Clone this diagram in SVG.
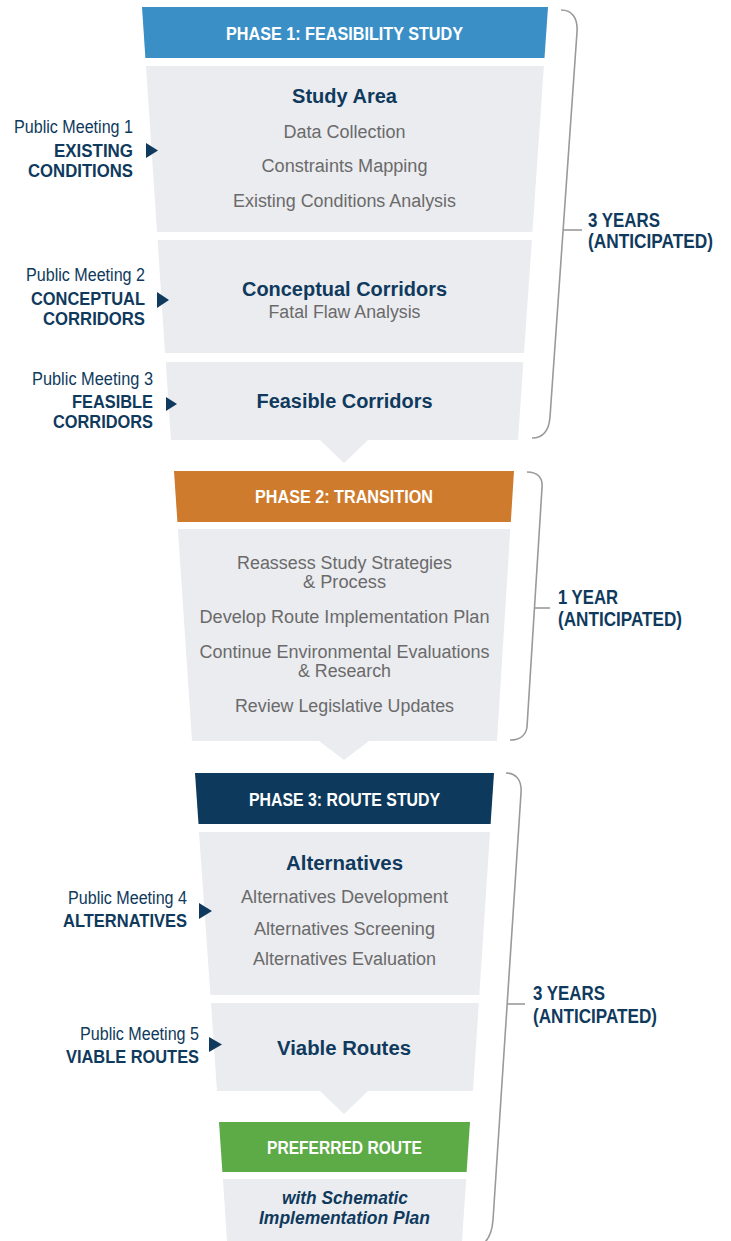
<svg xmlns="http://www.w3.org/2000/svg" width="731" height="1241" viewBox="0 0 731 1241">
<style>
.box{fill:#EBECF0}
.hdr{font-family:"Liberation Sans",Arial,sans-serif;font-weight:bold;font-size:18px;fill:#FFFFFF;text-anchor:middle}
.ttl{font-family:"Liberation Sans",Arial,sans-serif;font-weight:bold;font-size:20px;fill:#0F3A5D;text-anchor:middle}
.sub{font-family:"Liberation Sans",Arial,sans-serif;font-size:18px;fill:#6A6A6A;text-anchor:middle}
.pm{font-family:"Liberation Sans",Arial,sans-serif;font-size:18px;fill:#0F3A5D;text-anchor:end}
.pmb{font-family:"Liberation Sans",Arial,sans-serif;font-weight:bold;font-size:19px;fill:#0F3A5D;text-anchor:end}
.yr{font-family:"Liberation Sans",Arial,sans-serif;font-weight:bold;font-size:19.5px;fill:#0F3A5D}
.it{font-family:"Liberation Sans",Arial,sans-serif;font-weight:bold;font-style:italic;font-size:18px;fill:#0F3A5D;text-anchor:middle}
.brace{fill:none;stroke:#9A9A9A;stroke-width:1.6}
.tri{fill:#0F3A5D}
</style>

<g id="phase1-header">
<polygon points="142,7 548,7 544.5,58 145.4,58" fill="#3B8FC7"/>
<text class="hdr" x="344.5" y="40" textLength="237" lengthAdjust="spacingAndGlyphs">PHASE 1: FEASIBILITY STUDY</text>
</g>
<g id="study-area">
<polygon class="box" points="146,66 543.9,66 532.4,232 157,232"/>
<text class="ttl" x="344.5" y="103">Study Area</text>
<text class="sub" x="344.5" y="138" textLength="122" lengthAdjust="spacingAndGlyphs">Data Collection</text>
<text class="sub" x="344.5" y="172" textLength="166" lengthAdjust="spacingAndGlyphs">Constraints Mapping</text>
<text class="sub" x="344.5" y="207" textLength="223" lengthAdjust="spacingAndGlyphs">Existing Conditions Analysis</text>
</g>
<g id="conceptual-corridors">
<polygon class="box" points="157.6,240 531.9,240 524,353 165,353"/>
<text class="ttl" x="344.5" y="296" textLength="205" lengthAdjust="spacingAndGlyphs">Conceptual Corridors</text>
<text class="sub" x="344.5" y="318" textLength="152" lengthAdjust="spacingAndGlyphs">Fatal Flaw Analysis</text>
</g>
<g id="feasible-corridors">
<polygon class="box" points="165.8,362 523.4,362 518,440 171,440"/>
<text class="ttl" x="344.5" y="408" textLength="176" lengthAdjust="spacingAndGlyphs">Feasible Corridors</text>
</g>

<g id="phase2-header">
<polygon points="174,471 514,471 510.8,522 177.4,522" fill="#CE7B2D"/>
<text class="hdr" x="344" y="503" textLength="178" lengthAdjust="spacingAndGlyphs">PHASE 2: TRANSITION</text>
</g>
<g id="transition">
<polygon class="box" points="177.9,529 510.3,529 497,741 192,741"/>
<text class="sub" x="344.5" y="569" textLength="215" lengthAdjust="spacingAndGlyphs">Reassess Study Strategies</text>
<text class="sub" x="344.5" y="588" textLength="83" lengthAdjust="spacingAndGlyphs">&amp; Process</text>
<text class="sub" x="344.5" y="623" textLength="290" lengthAdjust="spacingAndGlyphs">Develop Route Implementation Plan</text>
<text class="sub" x="344.5" y="658" textLength="290" lengthAdjust="spacingAndGlyphs">Continue Environmental Evaluations</text>
<text class="sub" x="344.5" y="677" textLength="93" lengthAdjust="spacingAndGlyphs">&amp; Research</text>
<text class="sub" x="344.5" y="712" textLength="219" lengthAdjust="spacingAndGlyphs">Review Legislative Updates</text>
</g>

<g id="phase3-header">
<polygon points="195,773 494,773 490.6,824 198.5,824" fill="#0D3A5C"/>
<text class="hdr" x="344.5" y="806" textLength="191" lengthAdjust="spacingAndGlyphs">PHASE 3: ROUTE STUDY</text>
</g>
<g id="alternatives">
<polygon class="box" points="199,832 490,832 479.3,995 210.4,995"/>
<text class="ttl" x="344.5" y="870" textLength="117" lengthAdjust="spacingAndGlyphs">Alternatives</text>
<text class="sub" x="344.5" y="903" textLength="207" lengthAdjust="spacingAndGlyphs">Alternatives Development</text>
<text class="sub" x="344.5" y="935" textLength="181" lengthAdjust="spacingAndGlyphs">Alternatives Screening</text>
<text class="sub" x="344.5" y="965" textLength="183" lengthAdjust="spacingAndGlyphs">Alternatives Evaluation</text>
</g>
<g id="viable-routes">
<polygon class="box" points="211,1003 478.8,1003 473,1091 217,1091"/>
<text class="ttl" x="344" y="1055" textLength="134" lengthAdjust="spacingAndGlyphs">Viable Routes</text>
</g>
<g id="preferred-route">
<polygon points="219,1122 470,1122 466.6,1172 222.4,1172" fill="#5DAB47"/>
<text class="hdr" x="344.5" y="1154" textLength="155" lengthAdjust="spacingAndGlyphs">PREFERRED ROUTE</text>
</g>
<g id="schematic-plan">
<polygon class="box" points="222.9,1179 466.2,1179 462,1241 227,1241"/>
<text class="it" x="345" y="1204" textLength="126" lengthAdjust="spacingAndGlyphs">with Schematic</text>
<text class="it" x="344.5" y="1224" textLength="171" lengthAdjust="spacingAndGlyphs">Implementation Plan</text>
</g>

<g id="meeting-1">
<text class="pm" x="133" y="133" textLength="119" lengthAdjust="spacingAndGlyphs">Public Meeting 1</text>
<text class="pmb" x="133" y="156.5" textLength="79" lengthAdjust="spacingAndGlyphs">EXISTING</text>
<text class="pmb" x="133" y="176.5" textLength="105" lengthAdjust="spacingAndGlyphs">CONDITIONS</text>
</g>
<g id="meeting-2">
<text class="pm" x="145" y="281" textLength="119" lengthAdjust="spacingAndGlyphs">Public Meeting 2</text>
<text class="pmb" x="145" y="304.5" textLength="114" lengthAdjust="spacingAndGlyphs">CONCEPTUAL</text>
<text class="pmb" x="145" y="324.5" textLength="102" lengthAdjust="spacingAndGlyphs">CORRIDORS</text>
</g>
<g id="meeting-3">
<text class="pm" x="153" y="385" textLength="121" lengthAdjust="spacingAndGlyphs">Public Meeting 3</text>
<text class="pmb" x="153" y="408" textLength="81" lengthAdjust="spacingAndGlyphs">FEASIBLE</text>
<text class="pmb" x="153" y="428" textLength="100" lengthAdjust="spacingAndGlyphs">CORRIDORS</text>
</g>
<g id="meeting-4">
<text class="pm" x="187" y="904" textLength="119" lengthAdjust="spacingAndGlyphs">Public Meeting 4</text>
<text class="pmb" x="187" y="927" textLength="124" lengthAdjust="spacingAndGlyphs">ALTERNATIVES</text>
</g>
<g id="meeting-5">
<text class="pm" x="199" y="1040" textLength="119" lengthAdjust="spacingAndGlyphs">Public Meeting 5</text>
<text class="pmb" x="199" y="1063" textLength="133" lengthAdjust="spacingAndGlyphs">VIABLE ROUTES</text>
</g>

<g id="duration-1">
<path class="brace" d="M561,10 C572,10 578,18 577,32 L550,417 C549,430 543,438 532,438"/>
<path class="brace" d="M563,230 L582,230"/>
<text class="yr" x="588" y="227" textLength="72" lengthAdjust="spacingAndGlyphs">3 YEARS</text>
<text class="yr" x="588" y="248" textLength="125" lengthAdjust="spacingAndGlyphs">(ANTICIPATED)</text>
</g>
<g id="duration-2">
<path class="brace" d="M527,472 C538,472 543,478 542,488 L527,727 C526,735 520,740 510,740"/>
<path class="brace" d="M534,608 L550,608"/>
<text class="yr" x="558" y="604" textLength="60" lengthAdjust="spacingAndGlyphs">1 YEAR</text>
<text class="yr" x="558" y="626" textLength="124" lengthAdjust="spacingAndGlyphs">(ANTICIPATED)</text>
</g>
<g id="duration-3">
<path class="brace" d="M506,773 C516,773 522,780 521,793 L493,1220 C492,1233 488,1240 483,1244"/>
<path class="brace" d="M507,1004 L525,1004"/>
<text class="yr" x="533" y="1000" textLength="72" lengthAdjust="spacingAndGlyphs">3 YEARS</text>
<text class="yr" x="533" y="1023" textLength="124" lengthAdjust="spacingAndGlyphs">(ANTICIPATED)</text>
</g>

<g id="connectors">
<polygon class="box" points="320,440 368,440 344,463"/>
<polygon class="box" points="319,741 369,741 344,760"/>
<polygon class="box" points="320,1091 368,1091 344,1114"/>
<polygon class="tri" points="146,143 158,150.5 146,158"/>
<polygon class="tri" points="157,292 169,300 157,308"/>
<polygon class="tri" points="166,397 177,404 166,411"/>
<polygon class="tri" points="199,903 212,911 199,919"/>
<polygon class="tri" points="209,1037 222,1044.5 209,1052"/>
</g>
</svg>
